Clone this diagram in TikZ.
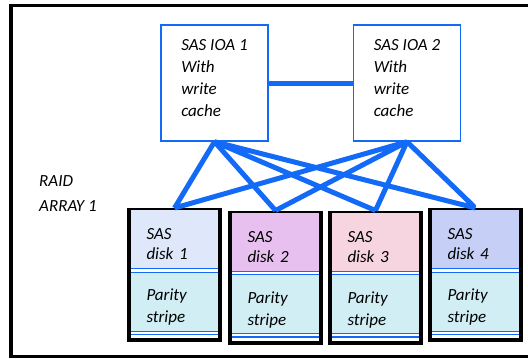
\documentclass[tikz,border=0pt]{standalone}
\usepackage{fontspec}
\setmainfont{Carlito}
\usetikzlibrary{positioning, shadows}

\definecolor{linkblue}{RGB}{18,106,246}
\definecolor{diskA}{RGB}{222,232,250}
\definecolor{diskB}{RGB}{232,192,240}
\definecolor{diskC}{RGB}{246,212,224}
\definecolor{diskD}{RGB}{198,208,246}
\definecolor{paritycyan}{RGB}{210,238,245}

\newcommand{\iopad}{\rule[-10pt]{0pt}{10pt}}
\newcommand{\namepad}{\rule{0pt}{19pt}}
\newcommand{\paritypad}{\rule{0pt}{23.5pt}}

\begin{document}
\begin{tikzpicture}[x=1pt, y=-1pt,
    every node/.style={font=\itshape\fontsize{17}{22}\selectfont},
    ioa/.style={draw=linkblue, line width=1.5pt, minimum width=107pt,
      minimum height=116pt, inner xsep=0pt, align=left},
    diskframe/.style={draw=black, fill=white, line width=4pt,
      minimum width=91pt, minimum height=130pt, inner sep=0pt,
      drop shadow={shadow xshift=1.5pt, shadow yshift=-1.5pt, opacity=0.3}},
    diskname/.style={minimum width=87pt, minimum height=60pt, inner xsep=15.5pt,
      inner ysep=0pt, text width=56pt, align=left,
      font=\itshape\fontsize{17}{20}\selectfont},
    parity/.style={diskname, fill=paritycyan, minimum height=62pt,
      font=\itshape\fontsize{17}{22}\selectfont},
    sep/.style={draw=linkblue, line width=1.2pt, double=white,
      double distance=2.2pt},
    link/.style={draw=linkblue, line width=5pt}]

  \useasboundingbox (0,0) rectangle (528,359);

  % Marco exterior
  \draw[line width=3.5pt] (560,5.5) -- (11,5.5) -- (11,356.5) -- (560,356.5);

  % Controladores con cache
  \node[ioa] (ioa1) at (214.5,83) {SAS IOA 1\\With\\write\\cache\iopad};
  \node[ioa] (ioa2) at (407,83) {SAS IOA 2\\With\\write\\cache\iopad};
  \node[inner sep=0pt, anchor=west, align=left,
        font=\itshape\fontsize{17}{25}\selectfont] (raid) at (39,193.5)
        {RAID\\ARRAY 1};

  % Discos del arreglo
  \node[diskframe] (disk1) at (174.5,275) {};
  \node[diskframe] (disk2) at (275.5,277.5) {};
  \node[diskframe] (disk3) at (375.5,277.5) {};
  \node[diskframe] (disk4) at (475.5,275) {};

  \node[diskname, fill=diskA, below=2pt of disk1.north] (name1) {\namepad SAS\\disk 1};
  \node[diskname, fill=diskB, below=2pt of disk2.north] (name2) {\namepad SAS\\disk 2};
  \node[diskname, fill=diskC, below=2pt of disk3.north] (name3) {\namepad SAS\\disk 3};
  \node[diskname, fill=diskD, below=2pt of disk4.north] (name4) {\namepad SAS\\disk 4};

  \node[parity, below=0pt of name1] (par1) {\paritypad Parity\\stripe};
  \node[parity, below=0pt of name2] (par2) {\paritypad Parity\\stripe};
  \node[parity, below=0pt of name3] (par3) {\paritypad Parity\\stripe};
  \node[parity, below=0pt of name4] (par4) {\paritypad Parity\\stripe};

  % Separadores dobles
  \draw[sep] (name1.south west) -- (name1.south east)
             (par1.south west) -- (par1.south east)
             (name2.south west) -- (name2.south east)
             (par2.south west) -- (par2.south east)
             (name3.south west) -- (name3.south east)
             (par3.south west) -- (par3.south east)
             (name4.south west) -- (name4.south east)
             (par4.south west) -- (par4.south east);

  % Enlaces
  \draw[link] (ioa1) -- (ioa2);
  \draw[link, shorten >=2pt] (ioa1.south) -- (disk1.north)
    (ioa1.south) -- (disk2.north)
    (ioa1.south) -- (disk3.north)
    (ioa1.south) -- (disk4.north)
    (ioa2.south) -- (disk1.north)
    (ioa2.south) -- (disk2.north)
    (ioa2.south) -- (disk3.north)
    (ioa2.south) -- (disk4.north);

\end{tikzpicture}
\end{document}
